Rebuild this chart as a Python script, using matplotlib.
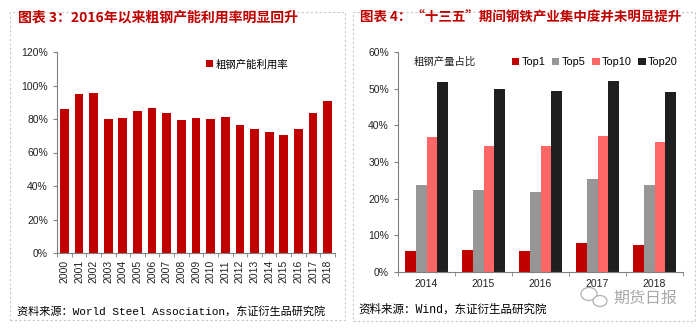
import matplotlib
matplotlib.use('Agg')
import matplotlib.pyplot as plt
from matplotlib.patches import Rectangle, Ellipse
import numpy as np

plt.rcParams['font.family'] = ['Liberation Sans', 'Noto Sans CJK SC']
plt.rcParams['axes.unicode_minus'] = False

# данные: левый график
years = [str(y) for y in range(2000, 2019)]
util_rate = [86.1, 95.0, 95.6, 80.2, 80.8, 84.6, 86.7, 83.8, 79.6, 80.8,
             80.2, 81.4, 76.6, 74.3, 72.5, 70.3, 74.3, 83.8, 90.9]

# данные: правый график
conc_years = ['2014', '2015', '2016', '2017', '2018']
top1 = [5.8, 6.1, 5.8, 8.0, 7.4]
top5 = [23.6, 22.3, 21.9, 25.5, 23.7]
top10 = [36.8, 34.4, 34.4, 37.1, 35.4]
top20 = [51.9, 50.0, 49.5, 52.2, 49.2]

RED = '#C00000'
spine_col = '#808080'

fig = plt.figure(figsize=(7, 3.29), dpi=100)

# рамки панелей
fig.patches.append(Rectangle((10 / 700, 9 / 329), 335 / 700, 308 / 329, transform=fig.transFigure,
                             fill=False, edgecolor='#C8C8C8', linestyle=(0, (2, 2)), linewidth=0.8))
fig.patches.append(Rectangle((353 / 700, 8 / 329), 342 / 700, 309 / 329, transform=fig.transFigure,
                             fill=False, edgecolor='#C8C8C8', linestyle=(0, (2, 2)), linewidth=0.8))

# заголовки
fig.text(18 / 700, 1 - 18 / 329, '图表 3：2016年以来粗钢产能利用率明显回升', color=RED,
         fontsize=10, fontweight='bold', va='center', ha='left', family=['Noto Sans CJK SC'])
fig.text(360 / 700, 1 - 18 / 329, '图表 4：“十三五”期间钢铁产业集中度并未明显提升', color=RED,
         fontsize=9.7, fontweight='bold', va='center', ha='left', family=['Noto Sans CJK SC'])

# источники
fig.text(17 / 700, 1 - 311 / 329, '资料来源：World Steel Association，东证衍生品研究院',
         fontsize=8, va='center', ha='left', family=['Liberation Mono', 'Noto Sans CJK SC'])
fig.text(358 / 700, 1 - 310 / 329, '资料来源：Wind，东证衍生品研究院',
         fontsize=8.3, va='center', ha='left', family=['Liberation Mono', 'Noto Sans CJK SC'])

# водяной знак
fig.text(613 / 700, 1 - 298 / 329, '期货日报', color='#A8A8A8', fontsize=11.5,
         va='center', ha='left', family=['Noto Sans CJK SC'])
fig.patches.append(Ellipse((589 / 700, 1 - 294 / 329), 16 / 700, 13 / 329, transform=fig.transFigure,
                           fill=False, edgecolor='#B0B0B0', linewidth=0.9))
fig.patches.append(Ellipse((600 / 700, 1 - 301 / 329), 14 / 700, 11 / 329, transform=fig.transFigure,
                           facecolor='white', edgecolor='#B0B0B0', linewidth=0.9))


def style_axes(ax):
    for s in ['top', 'right']:
        ax.spines[s].set_visible(False)
    for s in ['left', 'bottom']:
        ax.spines[s].set_color(spine_col)
        ax.spines[s].set_linewidth(0.8)
    ax.tick_params(axis='both', colors=spine_col, labelcolor='#222222', labelsize=7.5,
                   length=3, width=0.8)


# -------- левый график --------
ax1 = fig.add_axes([57 / 700, 1 - 253 / 329, 278 / 700, 201 / 329])
x1 = np.arange(len(years))
ax1.bar(x1, util_rate, width=0.6, color=RED, label='粗钢产能利用率')
ax1.set_xlim(-0.5, len(years) - 0.5)
ax1.set_ylim(0, 120)
ax1.set_yticks(range(0, 121, 20))
ax1.set_yticklabels([f'{v}%' for v in range(0, 121, 20)])
ax1.set_xticks(x1)
ax1.set_xticklabels(years, rotation=90)
ax1.set_xticks(np.arange(-0.5, len(years), 1), minor=True)
style_axes(ax1)
ax1.tick_params(axis='x', which='major', length=0, pad=5)
ax1.tick_params(axis='x', which='minor', length=3, color=spine_col)
ax1.legend(loc='upper left', bbox_to_anchor=(0.52, 0.985), frameon=False, fontsize=7.5,
           handlelength=0.7, handleheight=0.7, handletextpad=0.2, borderaxespad=0)

# -------- правый график --------
ax2 = fig.add_axes([398 / 700, 1 - 272 / 329, 285 / 700, 220 / 329])
x2 = np.arange(len(conc_years))
w = 0.19
series = [('Top1', top1, RED), ('Top5', top5, '#969696'),
          ('Top10', top10, '#FF6666'), ('Top20', top20, '#1F1F1F')]
for i, (name, vals, col) in enumerate(series):
    ax2.bar(x2 + (i - 1.5) * w, vals, width=w, color=col, label=name)
ax2.set_xlim(-0.5, len(conc_years) - 0.5)
ax2.set_ylim(0, 60)
ax2.set_yticks(range(0, 61, 10))
ax2.set_yticklabels([f'{v}%' for v in range(0, 61, 10)])
ax2.set_xticks(x2)
ax2.set_xticklabels(conc_years)
ax2.set_xticks(np.arange(-0.5, len(conc_years), 1), minor=True)
style_axes(ax2)
ax2.tick_params(axis='x', which='major', length=0, pad=5)
ax2.tick_params(axis='x', which='minor', length=3, color=spine_col)
ax2.text(0.055, 0.955, '粗钢产量占比', transform=ax2.transAxes, fontsize=7.5,
         va='center', ha='left', color='#222222')
ax2.legend(loc='upper right', bbox_to_anchor=(1.0, 1.0), ncol=4, frameon=False, fontsize=7.8,
           handlelength=0.7, handleheight=0.7, handletextpad=0.2, columnspacing=0.6,
           borderaxespad=0.1)

fig.savefig('out.png', dpi=100)
